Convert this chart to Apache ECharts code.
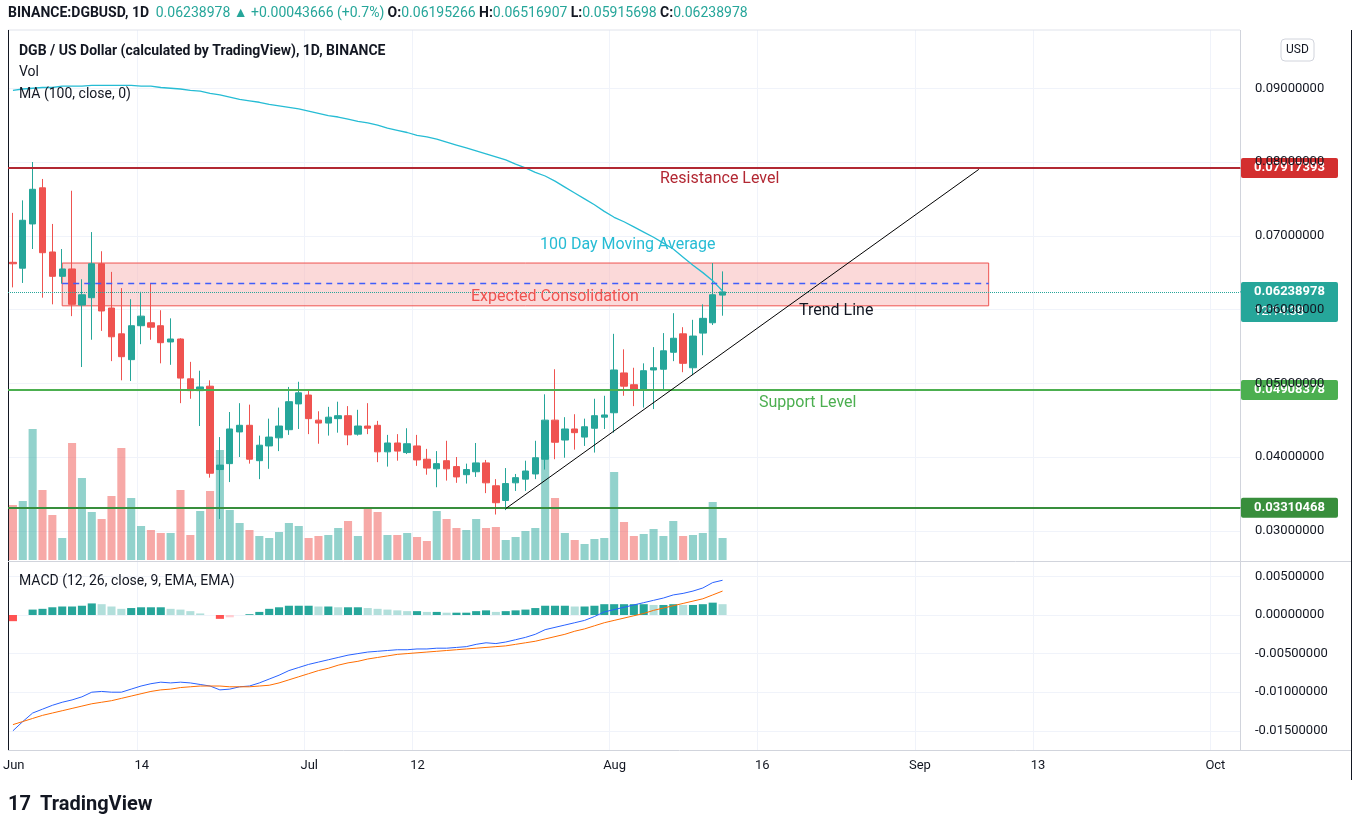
<!DOCTYPE html>
<html>
<head>
<meta charset="utf-8">
<script src="https://cdn.jsdelivr.net/npm/echarts@6/dist/echarts.min.js"></script>
<style>
  html, body { margin: 0; padding: 0; background: #fff; }
  #chart { width: 1360px; height: 829px; }
</style>
</head>
<body>
<div id="chart"></div>
<script>
// daily candles Jun 1 .. Aug 12, [open, close, low, high]
const candles = [
  [0.0664,0.0662,0.0630,0.0731],[0.0656,0.0721,0.0636,0.0748],[0.0716,0.0763,0.0682,0.0800],[0.0765,0.0677,0.0616,0.0777],
  [0.0678,0.0645,0.0607,0.0716],[0.0645,0.0655,0.0635,0.0682],[0.0655,0.0607,0.0591,0.0761],[0.0606,0.0620,0.0522,0.0641],
  [0.0616,0.0662,0.0559,0.0705],[0.0662,0.0598,0.0571,0.0679],[0.0602,0.0563,0.0530,0.0651],[0.0567,0.0536,0.0504,0.0629],
  [0.0532,0.0578,0.0503,0.0614],[0.0578,0.0591,0.0553,0.0624],[0.0582,0.0576,0.0559,0.0636],[0.0578,0.0555,0.0527,0.0599],
  [0.0556,0.0560,0.0525,0.0588],[0.0560,0.0507,0.0473,0.0561],[0.0506,0.0490,0.0479,0.0529],[0.0490,0.0495,0.0442,0.0517],
  [0.0496,0.0378,0.0372,0.0504],[0.0383,0.0389,0.0316,0.0427],[0.0391,0.0438,0.0366,0.0461],[0.0434,0.0443,0.0400,0.0473],
  [0.0443,0.0397,0.0391,0.0471],[0.0395,0.0416,0.0370,0.0429],[0.0415,0.0427,0.0384,0.0452],[0.0426,0.0442,0.0408,0.0467],
  [0.0437,0.0475,0.0430,0.0495],[0.0472,0.0487,0.0438,0.0502],[0.0484,0.0452,0.0431,0.0492],[0.0450,0.0446,0.0418,0.0462],
  [0.0446,0.0454,0.0429,0.0468],[0.0452,0.0456,0.0433,0.0475],[0.0456,0.0430,0.0416,0.0469],[0.0431,0.0442,0.0429,0.0464],
  [0.0442,0.0439,0.0431,0.0473],[0.0443,0.0407,0.0393,0.0449],[0.0407,0.0419,0.0387,0.0430],[0.0419,0.0408,0.0395,0.0431],
  [0.0406,0.0418,0.0404,0.0439],[0.0415,0.0396,0.0388,0.0430],[0.0397,0.0385,0.0376,0.0411],[0.0384,0.0391,0.0359,0.0408],
  [0.0395,0.0384,0.0368,0.0422],[0.0387,0.0373,0.0365,0.0400],[0.0376,0.0383,0.0364,0.0391],[0.0380,0.0392,0.0373,0.0419],
  [0.0392,0.0365,0.0351,0.0396],[0.0361,0.0338,0.0322,0.0370],[0.0341,0.0364,0.0328,0.0385],[0.0365,0.0372,0.0354,0.0377],
  [0.0370,0.0381,0.0354,0.0395],[0.0377,0.0399,0.0370,0.0422],[0.0397,0.0450,0.0383,0.0485],[0.0450,0.0420,0.0397,0.0519],
  [0.0423,0.0438,0.0399,0.0454],[0.0438,0.0433,0.0410,0.0458],[0.0427,0.0441,0.0415,0.0452],[0.0439,0.0456,0.0406,0.0479],
  [0.0454,0.0457,0.0438,0.0483],[0.0460,0.0518,0.0433,0.0567],[0.0514,0.0496,0.0483,0.0546],[0.0498,0.0492,0.0469,0.0521],
  [0.0492,0.0517,0.0467,0.0527],[0.0518,0.0521,0.0465,0.0549],[0.0519,0.0544,0.0492,0.0568],[0.0542,0.0561,0.0530,0.0595],
  [0.0567,0.0527,0.0515,0.0576],[0.0521,0.0564,0.0511,0.0586],[0.0568,0.0588,0.0538,0.0607],[0.0582,0.0620,0.0579,0.0663],
  [0.06195266,0.06238978,0.05915698,0.06516907]
];
const volumes = [55,59,131,70,45,22,117,82,48,41,64,112,62,34,30,27,27,70,25,49,69,110,50,37,30,
  24,22,28,37,34,22,24,25,32,39,24,52,48,25,25,27,23,19,49,41,32,30,41,32,33,20,23,29,
  32,105,62,27,20,16,21,22,88,38,24,26,31,24,39,24,25,27,58,22];
const ma100 = [0.0897,0.0899,0.0900,0.0901,0.0901,0.0903,0.0903,0.0903,0.0904,0.0904,0.0904,0.0904,0.0904,0.0903,0.0903,0.0901,
  0.0900,0.0899,0.0897,0.0896,0.0893,0.0891,0.0888,0.0885,0.0883,0.0881,0.0878,0.0876,0.0874,0.0872,0.0869,
  0.0866,0.0863,0.0861,0.0858,0.0855,0.0853,0.0850,0.0846,0.0843,0.0840,0.0836,0.0834,0.0831,0.0827,0.0823,
  0.0819,0.0815,0.0811,0.0807,0.0803,0.0797,0.0792,0.0786,0.0781,0.0774,0.0766,0.0758,0.0750,0.0742,0.0733,
  0.0725,0.0719,0.0712,0.0705,0.0698,0.0690,0.0682,0.0671,0.0660,0.0650,0.0639,0.0625];
const macdLine = [-0.0150,-0.0138,-0.0127,-0.0122,-0.0117,-0.0113,-0.0110,-0.0106,-0.0100,-0.0099,-0.0100,-0.0100,
  -0.0096,-0.0092,-0.0089,-0.0087,-0.0088,-0.0087,-0.0088,-0.0090,-0.0092,-0.0097,-0.0096,-0.0093,-0.0092,
  -0.0088,-0.0083,-0.0078,-0.0072,-0.0068,-0.0064,-0.0061,-0.0058,-0.0055,-0.0052,-0.0050,-0.0048,-0.0047,
  -0.0046,-0.0045,-0.0045,-0.0044,-0.0044,-0.0043,-0.0043,-0.0042,-0.0041,-0.0038,-0.0036,-0.0037,-0.0035,
  -0.0032,-0.0029,-0.0025,-0.0019,-0.0016,-0.0013,-0.0010,-0.0007,-0.0002,0.0004,0.0007,0.0010,0.0013,
  0.0016,0.0019,0.0022,0.0026,0.0028,0.0031,0.0035,0.0042,0.0045];
const signalLine = [-0.0142,-0.0138,-0.0134,-0.0130,-0.0127,-0.0124,-0.0121,-0.0118,-0.0115,-0.0113,-0.0111,-0.0108,
  -0.0105,-0.0102,-0.0099,-0.0097,-0.0096,-0.0094,-0.0093,-0.0092,-0.0092,-0.0092,-0.0093,-0.0093,-0.0093,
  -0.0092,-0.0091,-0.0088,-0.0084,-0.0080,-0.0076,-0.0072,-0.0069,-0.0065,-0.0062,-0.0060,-0.0057,-0.0055,
  -0.0053,-0.0051,-0.0050,-0.0049,-0.0048,-0.0047,-0.0046,-0.0045,-0.0044,-0.0043,-0.0042,-0.0041,-0.0040,
  -0.0038,-0.0036,-0.0034,-0.0031,-0.0028,-0.0025,-0.0021,-0.0018,-0.0014,-0.0010,-0.0007,-0.0004,-0.0001,
  0.0002,0.0006,0.0009,0.0012,0.0015,0.0018,0.0021,0.0026,0.0031];
const macdHist = [-0.0008,0.0000,0.0007,0.0008,0.0010,0.0011,0.0011,0.0012,0.0015,0.0014,0.0011,0.0008,0.0009,
  0.0010,0.0010,0.0010,0.0008,0.0007,0.0005,0.0002,0.0000,-0.0005,-0.0003,0.0000,0.0001,0.0004,0.0008,0.0010,
  0.0012,0.0012,0.0012,0.0011,0.0011,0.0010,0.0010,0.0010,0.0009,0.0008,0.0007,0.0006,0.0005,0.0005,0.0004,
  0.0004,0.0003,0.0003,0.0003,0.0005,0.0006,0.0004,0.0005,0.0006,0.0007,0.0009,0.0012,0.0012,0.0012,0.0011,
  0.0011,0.0012,0.0014,0.0014,0.0014,0.0014,0.0014,0.0013,0.0013,0.0014,0.0013,0.0013,0.0014,0.0016,0.0014];

const resistance = 0.07917393;
const support = 0.04908378;
const lowLevel = 0.03310468;
const lastPrice = 0.06238978;
const zoneTop = 0.0663, zoneBottom = 0.0605, zoneMid = 0.0635;
const zoneFrom = 5, zoneTo = 99;
const trendFrom = [50, 0.0330], trendTo = [98, 0.0790];
const tickLabels = { '6-1': 'Jun', '6-14': '14', '7-1': 'Jul', '7-12': '12', '8-1': 'Aug', '8-16': '16', '9-1': 'Sep', '9-13': '13', '10-1': 'Oct' };
const dayCount = 125;

const up = '#26a69a', down = '#ef5350';
const dates = [];
for (let i = 0; i < dayCount; i++) {
  const d = new Date(2021, 5, 1 + i);
  dates.push((d.getMonth() + 1) + '-' + d.getDate());
}
const volData = volumes.map((v, i) => ({
  value: v,
  itemStyle: { color: candles[i][1] >= candles[i][0] ? 'rgba(38,166,154,0.5)' : 'rgba(239,83,80,0.5)' }
}));
const histData = macdHist.map((v, i) => {
  const prev = i > 0 ? macdHist[i - 1] : v;
  let c;
  if (v >= 0) c = v >= prev ? '#26a69a' : '#b2dfdb';
  else c = v <= prev ? '#ff5252' : '#ffcdd2';
  return { value: v, itemStyle: { color: c } };
});

const font = 'Roboto, "Noto Sans", sans-serif';
const gridLine = '#f0f3fa';
const xCommon = {
  type: 'category', data: dates, boundaryGap: true,
  axisLine: { show: false }, axisTick: { show: false }, axisLabel: { show: false }, splitLine: { show: false }
};

const chart = echarts.init(document.getElementById('chart'));
chart.setOption({
  animation: false,
  textStyle: { fontFamily: font },
  grid: [
    { left: 8, right: 120, top: 14.5, height: 590 },
    { left: 8, right: 120, top: 400, height: 160 },
    { left: 8, right: 120, top: 537.8, height: 231.6 },
    { left: 8, right: 120, top: 30, height: 720 }
  ],
  xAxis: [
    Object.assign({ gridIndex: 0 }, xCommon),
    Object.assign({ gridIndex: 1 }, xCommon),
    Object.assign({ gridIndex: 2 }, xCommon),
    Object.assign({}, xCommon, {
      gridIndex: 3,
      axisLabel: {
        show: true, color: '#131722', fontSize: 13, margin: 9,
        interval: (i, v) => !!tickLabels[v],
        formatter: v => tickLabels[v] || ''
      },
      splitLine: { show: true, interval: (i, v) => !!tickLabels[v] && v !== '6-1', lineStyle: { color: gridLine } }
    })
  ],
  yAxis: [
    {
      gridIndex: 0, type: 'value', position: 'right', min: 0.02, max: 0.10, interval: 0.01,
      axisLine: { show: false }, axisTick: { show: false },
      axisLabel: { color: '#131722', fontSize: 13, margin: 15, formatter: v => (v < 0.025 || v > 0.095) ? '' : v.toFixed(8) },
      splitLine: { lineStyle: { color: ['transparent', gridLine, gridLine, gridLine, gridLine, gridLine, gridLine, gridLine, 'transparent'] } }
    },
    { gridIndex: 1, type: 'value', min: 0, max: 160, show: false },
    {
      gridIndex: 2, type: 'value', position: 'right', min: -0.02, max: 0.01, interval: 0.005,
      axisLine: { show: false }, axisTick: { show: false },
      axisLabel: { color: '#131722', fontSize: 13, margin: 15, formatter: v => (v < -0.0175 || v > 0.0075) ? '' : v.toFixed(8) },
      splitLine: { lineStyle: { color: ['transparent', gridLine, gridLine, gridLine, gridLine, gridLine, 'transparent'] } }
    },
    { gridIndex: 3, type: 'value', show: false }
  ],
  series: [
    {
      name: 'Vol', type: 'bar', xAxisIndex: 1, yAxisIndex: 1, data: volData, barWidth: '82%', silent: true
    },
    {
      name: 'DGBUSD', type: 'candlestick', xAxisIndex: 0, yAxisIndex: 0, data: candles, barWidth: '70%',
      itemStyle: { color: up, color0: down, borderColor: up, borderColor0: down },
      markArea: {
        silent: true,
        itemStyle: { color: 'rgba(248,180,180,0.5)', borderColor: '#ef5350', borderWidth: 1 },
        data: [[{ coord: [dates[zoneFrom], zoneTop] }, { coord: [dates[zoneTo], zoneBottom] }]]
      },
      markLine: {
        silent: true, symbol: 'none', label: { show: false }, precision: 8,
        data: [
          { yAxis: resistance, lineStyle: { color: '#b22833', width: 2, type: 'solid' } },
          { yAxis: support, lineStyle: { color: '#4caf50', width: 2, type: 'solid' } },
          { yAxis: lowLevel, lineStyle: { color: '#388e3c', width: 2, type: 'solid' } },
          { yAxis: lastPrice, lineStyle: { color: '#26a69a', width: 1, type: 'dotted' } },
          [{ coord: [dates[trendFrom[0]], trendFrom[1]] }, { coord: [dates[trendTo[0]], trendTo[1]] }]
        ],
        lineStyle: { color: '#000', width: 1, type: 'solid' }
      }
    },
    {
      name: 'MA', type: 'line', xAxisIndex: 0, yAxisIndex: 0, data: ma100, showSymbol: false,
      lineStyle: { color: '#26bcd4', width: 1.3 }, silent: true,
      markLine: {
        silent: true, symbol: 'none', label: { show: false }, precision: 8,
        lineStyle: { color: '#3f5efb', width: 1.3, type: [6, 5], opacity: 1 },
        data: [[{ coord: [dates[zoneFrom], zoneMid] }, { coord: [dates[zoneTo], zoneMid] }]]
      }
    },
    { name: 'Hist', type: 'bar', xAxisIndex: 2, yAxisIndex: 2, data: histData, barWidth: '82%', silent: true },
    { name: 'MACD', type: 'line', xAxisIndex: 2, yAxisIndex: 2, data: macdLine, showSymbol: false, lineStyle: { color: '#2962ff', width: 1 }, silent: true },
    { name: 'Signal', type: 'line', xAxisIndex: 2, yAxisIndex: 2, data: signalLine, showSymbol: false, lineStyle: { color: '#ff6d00', width: 1 }, silent: true }
  ]
});

// overlay: frames, legends, drawing labels, price badges
const py = v => chart.convertToPixel({ yAxisIndex: 0 }, v);
const badge = (v, color, extra) => {
  const y = py(v);
  const h = extra ? 40 : 20;
  return {
    type: 'group', z: 100,
    children: [
      { type: 'line', shape: { x1: 1240, y1: y, x2: 1246, y2: y }, style: { stroke: color } },
      { type: 'rect', shape: { x: 1241, y: y - 10, width: 97, height: h, r: 2 }, style: { fill: color } },
      { type: 'text', x: 1254, y: y, style: { text: v.toFixed(8), fill: '#fff', font: 'bold 13px ' + font, verticalAlign: 'middle' } }
    ].concat(extra ? [{ type: 'text', x: 1254, y: y + 20, style: { text: extra, fill: '#fff', font: '13px ' + font, verticalAlign: 'middle' } }] : [])
  };
};
const txt = (x, y, s, fill, size, weight) => ({
  type: 'text', x: x, y: y, z: 50,
  style: { text: s, fill: fill, font: (weight || 'normal') + ' ' + size + 'px ' + font, verticalAlign: 'middle' }
});
const teal = '#26a69a';
chart.setOption({
  graphic: [
    { type: 'line', shape: { x1: 8, y1: 30, x2: 1240, y2: 30 }, style: { stroke: '#e0e3eb' } },
    { type: 'line', shape: { x1: 8.5, y1: 30, x2: 8.5, y2: 750 }, style: { stroke: '#131722', lineWidth: 1 } },
    { type: 'line', shape: { x1: 1240.5, y1: 30, x2: 1240.5, y2: 750 }, style: { stroke: '#d1d4dc' } },
    { type: 'line', shape: { x1: 1351.5, y1: 30, x2: 1351.5, y2: 780 }, style: { stroke: '#131722' } },
    { type: 'line', shape: { x1: 8, y1: 561.5, x2: 1351, y2: 561.5 }, style: { stroke: '#d1d4dc' } },
    { type: 'line', shape: { x1: 8, y1: 750.5, x2: 1351, y2: 750.5 }, style: { stroke: '#d1d4dc' } },
    {
      type: 'text', x: 8, y: 13,
      style: {
        text: '{b|BINANCE:DGBUSD, 1D}  {g|0.06238978 ▲ +0.00043666 (+0.7%)} {b|O:}{g|0.06195266} {b|H:}{g|0.06516907} {b|L:}{g|0.05915698} {b|C:}{g|0.06238978}',
        verticalAlign: 'middle',
        rich: {
          b: { fill: '#131722', font: 'bold 14px ' + font },
          g: { fill: teal, font: '14px ' + font }
        }
      }
    },
    txt(19, 51, 'DGB / US Dollar (calculated by TradingView), 1D, BINANCE', '#131722', 14, 'bold'),
    txt(19, 72, 'Vol', '#131722', 14),
    txt(19, 94, 'MA (100, close, 0)', '#131722', 14),
    txt(19, 581, 'MACD (12, 26, close, 9, EMA, EMA)', '#131722', 14),
    { type: 'rect', shape: { x: 1281, y: 39, width: 33, height: 22, r: 4 }, style: { fill: '#fff', stroke: '#d1d4dc' } },
    txt(1286, 50, 'USD', '#131722', 12),
    txt(660, 179, 'Resistance Level', '#b22833', 16),
    txt(540, 245, '100 Day Moving Average', '#26bcd4', 16),
    txt(471, 297, 'Expected Consolidation', '#ef5350', 16),
    txt(799, 311, 'Trend Line', '#131722', 16),
    txt(759, 403, 'Support Level', '#4caf50', 16),
    badge(resistance, '#d32f2f'),
    badge(lastPrice, teal, '12:14:38'),
    badge(support, '#4caf50'),
    badge(lowLevel, '#388e3c'),
    txt(8, 805, '17', '#131722', 20, 'bold'),
    txt(40, 805, 'TradingView', '#131722', 20, 'bold')
  ]
});
</script>
</body>
</html>
